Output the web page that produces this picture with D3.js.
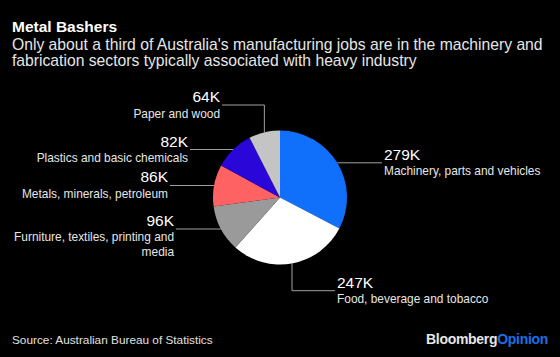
<!DOCTYPE html>
<html><head><meta charset="utf-8">
<script src="https://cdn.jsdelivr.net/npm/d3@7"></script>
<style>
html,body{margin:0;padding:0;background:#000;}
svg{display:block;font-family:"Liberation Sans",Arial,Helvetica,sans-serif;}
</style></head>
<body>
<svg id="c" width="560" height="357"></svg>
<script>
// Data
const categories = ["Machinery, parts and vehicles","Food, beverage and tobacco","Furniture, textiles, printing and|media","Metals, minerals, petroleum","Plastics and basic chemicals","Paper and wood"];
const values = [279, 247, 96, 86, 82, 64];
const valueLabels = ["279K","247K","96K","86K","82K","64K"];
const colors = ["#1170fb","#ffffff","#9a9a9a","#ff6262","#2a06d8","#c4c4c4"];

// Layout of label leaders (pixel positions, not data)
const leaderEnds = [
  {x:382, side:"right"},
  {x:335, y:290.7, side:"right"},
  {x:176, side:"left"},
  {x:170, side:"left"},
  {x:190, side:"left"},
  {x:222, y:105, side:"left"}
];

const svg = d3.select("#c");
const W = 560, H = 357;
svg.append("rect").attr("width",W).attr("height",H).attr("fill","#000");

svg.append("text").attr("x",12).attr("y",31.5).attr("fill","#fff")
  .attr("font-size",15.5).attr("font-weight","bold").text("Metal Bashers");
svg.append("text").attr("x",12).attr("y",49.5).attr("fill","#e6e6e6")
  .attr("font-size",15.7).text("Only about a third of Australia's manufacturing jobs are in the machinery and");
svg.append("text").attr("x",12).attr("y",66).attr("fill","#e6e6e6")
  .attr("font-size",15.7).text("fabrication sectors typically associated with heavy industry");

const cx = 280, cy = 197.5, r = 67;
const pie = d3.pie().sort(null).value(d=>d)(values);
const arc = d3.arc().innerRadius(0).outerRadius(r);
const g = svg.append("g").attr("transform",`translate(${cx},${cy})`);
g.selectAll("path").data(pie).join("path").attr("d",arc).attr("fill",(d,i)=>colors[i]);

const lineColor = "#a0a0a0";
pie.forEach((d,i)=>{
  const a = (d.startAngle+d.endAngle)/2;
  const px = cx + r*Math.sin(a), py = cy - r*Math.cos(a);
  const L = leaderEnds[i];
  let pts, ly;
  if (L.y !== undefined) {
    ly = L.y;
    pts = [[px,py],[px,ly],[L.x,ly]];
  } else {
    ly = py;
    pts = [[px,py],[L.x,ly]];
  }
  svg.append("path").attr("d",d3.line()(pts)).attr("fill","none")
    .attr("stroke",lineColor).attr("stroke-width",1);
  const right = L.side==="right";
  const tx = right ? L.x+2 : L.x-2;
  const anchor = right ? "start" : "end";
  svg.append("text").attr("x",tx).attr("y",ly-3).attr("fill","#fff")
    .attr("font-size",15.5).attr("text-anchor",anchor).text(valueLabels[i]);
  categories[i].split("|").forEach((t,k)=>{
    svg.append("text").attr("x",tx).attr("y",ly+12.5+k*15).attr("fill","#e6e6e6")
      .attr("font-size",11.9).attr("text-anchor",anchor).text(t);
  });
});

svg.append("text").attr("x",12).attr("y",344).attr("fill","#e0e0e0")
  .attr("font-size",11.8).text("Source: Australian Bureau of Statistics");
const bo = svg.append("text").attr("x",548).attr("y",344).attr("text-anchor","end")
  .attr("font-size",14).attr("font-weight","bold").attr("letter-spacing",-0.3);
bo.append("tspan").attr("fill","#e6e6e6").text("Bloomberg");
bo.append("tspan").attr("fill","#1b6fe6").text("Opinion");
</script>
</body></html>
